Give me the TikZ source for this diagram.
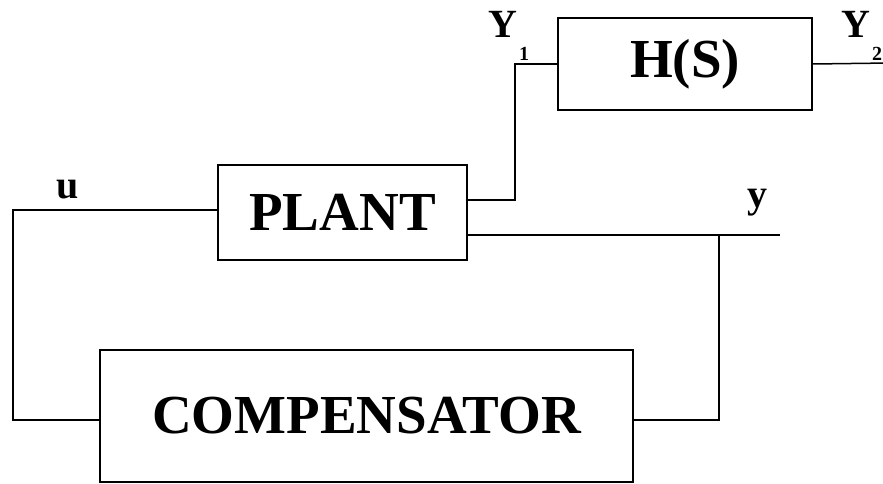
\documentclass[tikz,border=0pt]{standalone}
\usepackage{fontspec}
\setmainfont{Liberation Serif}
\usepackage{tikz}
\usetikzlibrary{positioning,calc}

\tikzset{
  block/.style={draw, line width=1.6pt, inner sep=0pt, font=\fontsize{55}{60}\selectfont\bfseries},
  wire/.style={line width=1.5pt},
  sig/.style={font=\fontsize{40}{44}\selectfont\bfseries, inner sep=0pt}
}
\newcommand{\sublow}[1]{\hspace{2pt}\raisebox{-23pt}{\fontsize{20}{20}\selectfont #1}}

\begin{document}
\begin{tikzpicture}[x=1pt,y=-1pt]
			\useasboundingbox (0,0) rectangle (883,484);
			
			\node[block, minimum width=249pt, minimum height=95pt] (plant) at (342.5,212.5) {PLANT};
			\node[block, minimum width=254pt, minimum height=92pt] (hs) at (685,64) {H(S)};
			\node[block, minimum width=533pt, minimum height=132pt] (comp) at (366.5,416) {COMPENSATOR};
			
			\coordinate (yend) at (780,235);
			\coordinate (y2end) at (890,63);
			
			% plant to H(S)
			\draw[wire] ($(plant.east)+(0,-12.5)$) -| (515,64) -- (hs.west);
			\draw[wire] (hs.east) -- (y2end);
			
			% measured output and feedback
			\draw[wire] ($(plant.east)+(0,22.5)$) -- (yend);
			\draw[wire] (719,235) |- ($(comp.east)+(0,4)$);
			\draw[wire] ($(comp.west)+(0,4)$) -| (13,210) -- (plant.west |- 0,210);
			
			\node[sig] (ulab) at (68,190) {u};
			\node[sig] (ylab) at (757,203) {y};
			\node[sig, anchor=base west] (y1lab) at (488,38) {Y\sublow{1}};
			\node[sig, anchor=base west] (y2lab) at (841,38) {Y\sublow{2}};
			
		\end{tikzpicture}
\end{document}
